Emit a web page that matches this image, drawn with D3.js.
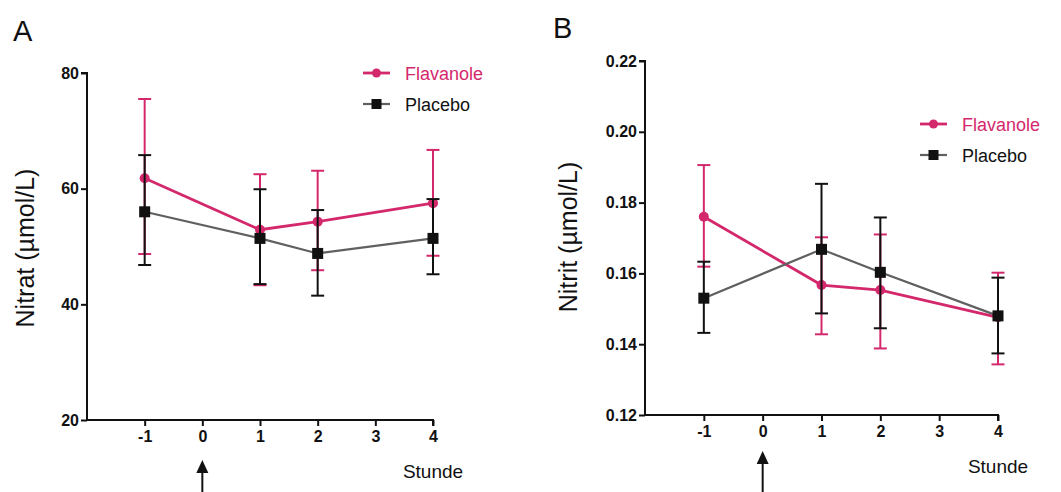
<!DOCTYPE html>
<html>
<head>
<meta charset="utf-8">
<script src="https://cdn.jsdelivr.net/npm/d3@7.9.0/dist/d3.min.js"></script>
<style>
  body { margin: 0; background: #fff; }
  svg { display: block; font-family: "Liberation Sans", Arial, sans-serif; }
</style>
</head>
<body>
<svg id="chart" width="1061" height="492"></svg>
<script>
// hours on the x axis
const hours = [-1, 1, 2, 4];
const xTicks = [-1, 0, 1, 2, 3, 4];

// Panel A: Nitrat (µmol/L)
const nitratFlav = [61.8, 52.9, 54.3, 57.5];
const nitratFlavHi = [75.5, 62.5, 63.1, 66.7];
const nitratFlavLo = [48.7, 43.3, 45.9, 48.4];
const nitratPlac = [56.0, 51.4, 48.8, 51.4];
const nitratPlacHi = [65.8, 59.9, 56.3, 58.2];
const nitratPlacLo = [46.8, 43.5, 41.5, 45.2];
const nitratTicks = [20, 40, 60, 80];

// Panel B: Nitrit (µmol/L)
const nitritFlav = [0.176, 0.1567, 0.1553, 0.1476];
const nitritFlavHi = [0.1906, 0.1702, 0.1710, 0.1602];
const nitritFlavLo = [0.1619, 0.1428, 0.1388, 0.1343];
const nitritPlac = [0.153, 0.1668, 0.1603, 0.1480];
const nitritPlacHi = [0.1633, 0.1853, 0.1758, 0.1588];
const nitritPlacLo = [0.1432, 0.1487, 0.1445, 0.1374];
const nitritTicks = [0.12, 0.14, 0.16, 0.18, 0.20, 0.22];

const pink = "#d4286c";
const grey = "#606060";
const svg = d3.select("#chart");

function drawPanel(o) {
  const g = svg.append("g");
  const x = d3.scaleLinear().domain([-2, 4]).range([o.left, o.right]);
  const y = d3.scaleLinear().domain(o.yDomain).range([o.bottom, o.top]);

  // axes (plain hyphen for negatives, like the original)
  const yAxis = d3.axisLeft(y).tickValues(o.yTicks).tickFormat(o.fmt).tickSize(6).tickPadding(2);
  const xAxis = d3.axisBottom(x).tickValues(xTicks).tickFormat(d => String(d)).tickSize(6).tickPadding(5);
  const ya = g.append("g").attr("transform", `translate(${o.left},0)`).call(yAxis);
  const xa = g.append("g").attr("transform", `translate(0,${o.bottom})`).call(xAxis);
  [ya, xa].forEach(a => {
    a.select(".domain").attr("stroke", "#111").attr("stroke-width", 2);
    a.selectAll(".tick line").attr("stroke", "#111").attr("stroke-width", 2);
    a.selectAll(".tick text").attr("fill", "#111").attr("font-size", 16).attr("font-weight", "bold")
      .attr("font-family", "Liberation Sans, Arial, sans-serif");
  });
  xa.select(".domain").attr("d", `M${o.left},0H${o.right}V6`);
  ya.select(".domain").attr("d", `M-6,${o.top}H0V${o.bottom}`);

  // panel letter, axis titles
  g.append("text").attr("x", o.letterX).attr("y", o.letterY).attr("font-size", 29).attr("fill", "#111").text(o.letter);
  g.append("text")
    .attr("transform", `translate(${o.labelX},${o.labelY}) rotate(-90)`)
    .attr("text-anchor", "middle").attr("font-size", 25).attr("fill", "#111").text(o.yLabel);
  g.append("text").attr("x", x(4)).attr("y", o.stundeY).attr("text-anchor", "middle")
    .attr("font-size", 19).attr("fill", "#111").text("Stunde");

  // arrow at hour 0
  const ax = x(0);
  g.append("line").attr("x1", ax).attr("x2", ax).attr("y1", o.arrowY + 8).attr("y2", 492)
    .attr("stroke", "#111").attr("stroke-width", 2);
  g.append("path").attr("d", `M${ax},${o.arrowY}L${ax - 6},${o.arrowY + 13}L${ax + 6},${o.arrowY + 13}Z`).attr("fill", "#111");

  function series(vals, hi, lo, lineColor, barColor, marker, lw) {
    const s = g.append("g");
    hours.forEach((h, i) => {
      const cx = x(h);
      s.append("line").attr("x1", cx).attr("x2", cx).attr("y1", y(hi[i])).attr("y2", y(lo[i]))
        .attr("stroke", barColor).attr("stroke-width", 2);
      [hi[i], lo[i]].forEach(v => s.append("line").attr("x1", cx - 6.5).attr("x2", cx + 6.5)
        .attr("y1", y(v)).attr("y2", y(v)).attr("stroke", barColor).attr("stroke-width", 2));
    });
    s.append("path").datum(vals)
      .attr("d", d3.line().x((d, i) => x(hours[i])).y(d => y(d)))
      .attr("fill", "none").attr("stroke", lineColor).attr("stroke-width", lw);
    hours.forEach((h, i) => {
      if (marker === "circle") {
        s.append("circle").attr("cx", x(h)).attr("cy", y(vals[i])).attr("r", 5).attr("fill", barColor);
      } else {
        s.append("rect").attr("x", x(h) - 5.5).attr("y", y(vals[i]) - 5.5).attr("width", 11).attr("height", 11).attr("fill", "#111");
      }
    });
  }
  series(o.flav, o.flavHi, o.flavLo, pink, pink, "circle", 2.8);
  series(o.plac, o.placHi, o.placLo, grey, "#111", "square", 2.2);

  // legend
  const lg = g.append("g");
  const items = [["Flavanole", pink, pink, "circle", 2.8], ["Placebo", grey, "#111", "square", 2.2]];
  items.forEach((it, i) => {
    const ly = o.legY + i * o.legGap;
    lg.append("line").attr("x1", o.legX).attr("x2", o.legX + 27).attr("y1", ly).attr("y2", ly)
      .attr("stroke", it[1]).attr("stroke-width", it[4]);
    if (it[3] === "circle") lg.append("circle").attr("cx", o.legX + 13.5).attr("cy", ly).attr("r", 4.5).attr("fill", it[2]);
    else lg.append("rect").attr("x", o.legX + 8.5).attr("y", ly - 5).attr("width", 10).attr("height", 10).attr("fill", "#111");
    lg.append("text").attr("x", o.legX + 42).attr("y", ly + 6.5).attr("font-size", 18)
      .attr("fill", i === 0 ? pink : "#111").text(it[0]);
  });
}

drawPanel({
  letter: "A", letterX: 13, letterY: 41,
  left: 87, right: 433, top: 73, bottom: 420,
  yDomain: [20, 80], yTicks: nitratTicks, fmt: d3.format("d"),
  yLabel: "Nitrat (µmol/L)", labelX: 34, labelY: 248,
  stundeY: 478, arrowY: 460,
  flav: nitratFlav, flavHi: nitratFlavHi, flavLo: nitratFlavLo,
  plac: nitratPlac, placHi: nitratPlacHi, placLo: nitratPlacLo,
  legX: 363, legY: 73, legGap: 31
});

drawPanel({
  letter: "B", letterX: 553, letterY: 38,
  left: 645, right: 998, top: 61, bottom: 415,
  yDomain: [0.12, 0.22], yTicks: nitritTicks, fmt: d3.format(".2f"),
  yLabel: "Nitrit (µmol/L)", labelX: 577, labelY: 237,
  stundeY: 473, arrowY: 451,
  flav: nitritFlav, flavHi: nitritFlavHi, flavLo: nitritFlavLo,
  plac: nitritPlac, placHi: nitritPlacHi, placLo: nitritPlacLo,
  legX: 920, legY: 124, legGap: 31
});
</script>
</body>
</html>
